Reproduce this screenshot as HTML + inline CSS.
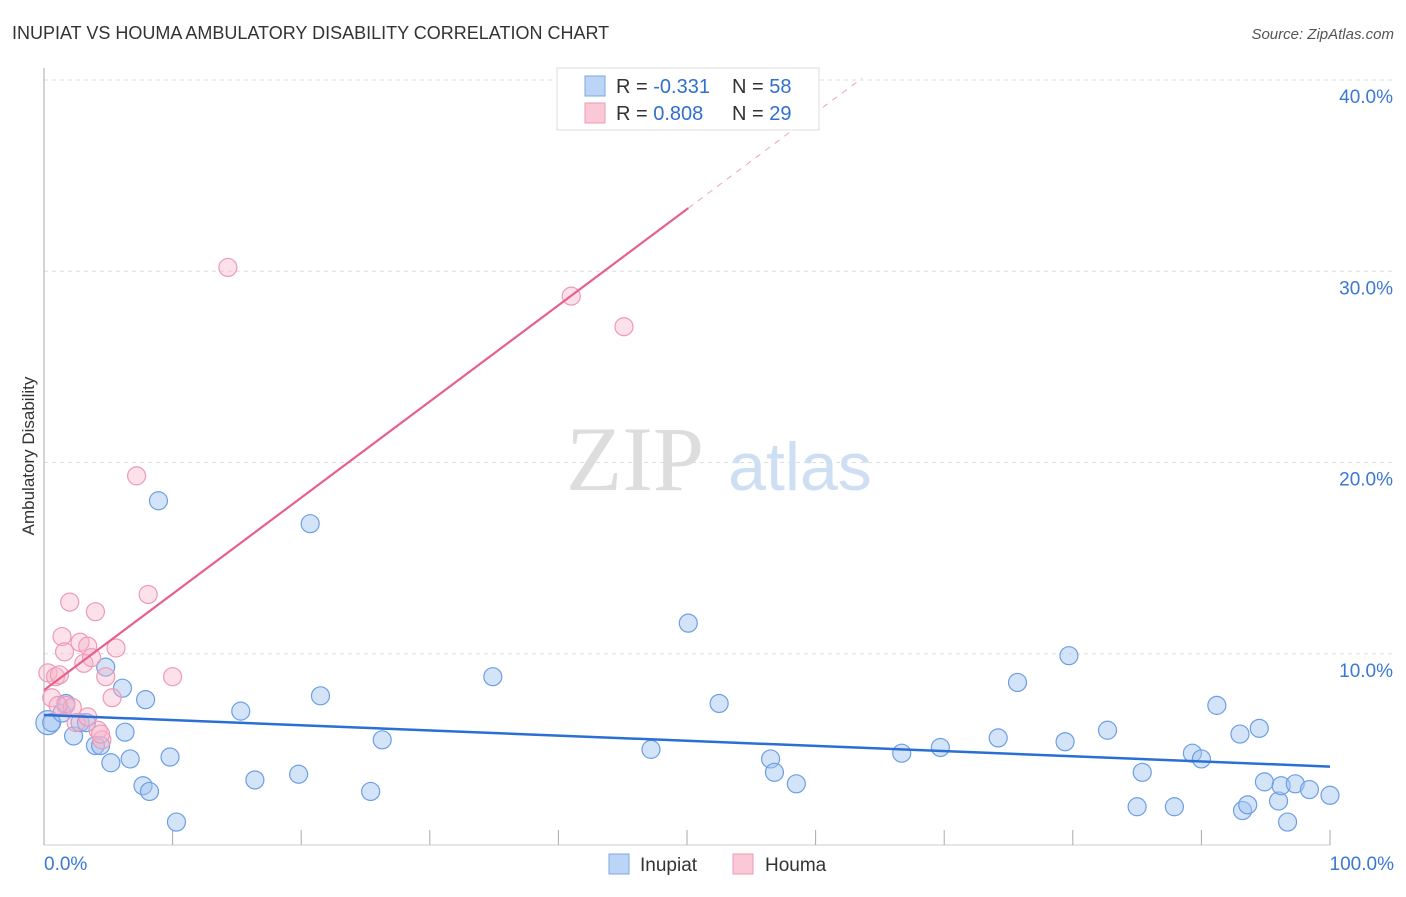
<!DOCTYPE html>
<html><head><meta charset="utf-8"><style>
body{margin:0;background:#fff;font-family:"Liberation Sans",sans-serif;}
</style></head><body>
<svg width="1406" height="892" xmlns="http://www.w3.org/2000/svg" font-family="Liberation Sans, sans-serif">
<text x="12" y="39" font-size="18" fill="#333">INUPIAT VS HOUMA AMBULATORY DISABILITY CORRELATION CHART</text>
<text x="1394" y="39" font-size="15" fill="#555" font-style="italic" text-anchor="end">Source: ZipAtlas.com</text>
<text x="34" y="456" font-size="17" fill="#333" transform="rotate(-90 34 456)" text-anchor="middle">Ambulatory Disability</text>
<g id="grid"></g>
<g id="watermark"><text x="635" y="490" font-size="92" fill="#ddd" font-family="Liberation Serif, serif" text-anchor="middle">ZIP</text><text x="800" y="490" font-size="68" fill="#cfdff3" text-anchor="middle">atlas</text></g>
<g id="points"></g>
<g id="lines"></g>
<g>
<rect x="557" y="68" width="262" height="62" fill="#fff" stroke="#ddd"/>
<rect x="585" y="76" width="20" height="20" fill="#bcd4f5" stroke="#7aa7e6"/>
<rect x="585" y="103" width="20" height="20" fill="#fbc8d8" stroke="#ee9ab5"/>
<text x="616" y="93" font-size="20" fill="#333">R = <tspan fill="#2f6fd0">-0.331</tspan></text>
<text x="732" y="93" font-size="20" fill="#333">N = <tspan fill="#2f6fd0">58</tspan></text>
<text x="616" y="120" font-size="20" fill="#333">R = <tspan fill="#2f6fd0"> 0.808</tspan></text>
<text x="732" y="120" font-size="20" fill="#333">N = <tspan fill="#2f6fd0">29</tspan></text>
</g>
<g>
<rect x="609" y="854" width="20" height="20" fill="#bcd4f5" stroke="#7aa7e6"/>
<text x="640" y="871" font-size="19" fill="#333">Inupiat</text>
<rect x="733" y="854" width="20" height="20" fill="#fbc8d8" stroke="#ee9ab5"/>
<text x="765" y="871" font-size="19" fill="#333">Houma</text>
</g>
</svg>
<script>
const yTicks=[10,20,30,40];
const xTickLabels=["0.0%","100.0%"];
const inupiatX=[0.3,0.6,1.4,1.7,2.3,2.8,3.3,4.0,4.4,4.8,5.2,6.1,6.3,6.7,7.9,7.7,8.2,8.9,9.8,10.3,15.3,16.4,19.8,20.7,21.5,25.4,26.3,34.9,47.2,50.1,52.5,56.5,56.8,58.5,66.7,69.7,74.2,75.7,79.4,79.7,82.7,85.0,85.4,87.9,89.3,90.0,91.2,93.0,93.2,93.6,94.5,94.9,96.0,96.2,96.7,97.3,98.4,100];
const inupiatY=[6.4,6.4,6.9,7.4,5.7,6.4,6.4,5.2,5.2,9.3,4.3,8.2,5.9,4.5,7.6,3.1,2.8,18.0,4.6,1.2,7.0,3.4,3.7,16.8,7.8,2.8,5.5,8.8,5.0,11.6,7.4,4.5,3.8,3.2,4.8,5.1,5.6,8.5,5.4,9.9,6.0,2.0,3.8,2.0,4.8,4.5,7.3,5.8,1.8,2.1,6.1,3.3,2.3,3.1,1.2,3.2,2.9,2.6];
const houmaX=[0.3,0.6,0.9,1.2,1.4,1.6,2.0,1.7,2.2,2.8,3.1,3.4,3.7,4.0,4.2,4.5,4.8,5.3,5.6,7.2,8.1,10.0,14.3,41.0,45.1,2.5,3.4,1.1,4.4];
const houmaY=[9.0,7.7,8.8,8.9,10.9,10.1,12.7,7.3,7.2,10.6,9.5,10.4,9.8,12.2,6.0,5.5,8.8,7.7,10.3,19.3,13.1,8.8,30.2,28.7,27.1,6.4,6.7,7.3,5.8];
const inupiatTrend=[6.8,4.1];
const houmaTrend=[8.1,0.503];
const NS="http://www.w3.org/2000/svg";
const X=v=>44+v*12.86, Y=v=>845-v*19.125;
function mk(tag,attrs,parent){const e=document.createElementNS(NS,tag);for(const k in attrs)e.setAttribute(k,attrs[k]);parent.appendChild(e);return e;}
const grid=document.getElementById('grid');
yTicks.forEach(t=>{
 const l=mk('line',{x1:44,x2:1394,y1:Y(t),y2:Y(t),stroke:'#ddd','stroke-dasharray':'4,4'},grid);
 
 
 const tx=mk('text',{x:1393,y:Y(t)+23,'font-size':19,fill:'#3a78d4','text-anchor':'end'},grid);
 tx.textContent=t.toFixed(1)+'%';
 
 
});
const ax=mk('line',{x1:44,x2:44,y1:68,y2:845,stroke:'#aaa'},grid);


const bx=mk('line',{x1:44,x2:1330,y1:845,y2:845,stroke:'#ccc'},grid);


for(let i=1;i<=10;i++){const t=mk('line',{x1:X(i*10),x2:X(i*10),y1:830,y2:845,stroke:'#aaa'},grid);
 
 }
[[0,'start',44],[100,'end',1394]].forEach((d,i)=>{const t=mk('text',{x:d[2],y:870,'font-size':19,fill:'#3a78d4','text-anchor':d[1]},grid);t.textContent=xTickLabels[i];
 
 });
const pts=document.getElementById('points');
inupiatX.forEach((x,i)=>{const c=mk('circle',{cx:X(x),cy:Y(inupiatY[i]),r:i==0?12:9,fill:'rgba(160,195,240,0.45)',stroke:'#6d9ee3','stroke-width':1.2},pts);
 
 });
houmaX.forEach((x,i)=>{const c=mk('circle',{cx:X(x),cy:Y(houmaY[i]),r:9,fill:'rgba(248,180,202,0.4)',stroke:'#ee9ab5','stroke-width':1.2},pts);
 
 });
const ln=document.getElementById('lines');
const b=mk('line',{x1:X(0),y1:Y(inupiatTrend[0]),x2:X(100),y2:Y(inupiatTrend[1]),stroke:'#2a6fd4','stroke-width':2.5},ln);


const hy=x=>houmaTrend[0]+houmaTrend[1]*x;
const p=mk('line',{x1:X(0),y1:Y(hy(0)),x2:X(50.1),y2:Y(hy(50.1)),stroke:'#e8608a','stroke-width':2.2},ln);


const pd=mk('line',{x1:X(50.1),y1:Y(hy(50.1)),x2:X(63.6),y2:Y(hy(63.6)),stroke:'#f0a0b8','stroke-width':1,'stroke-dasharray':'6,6'},ln);


</script>
</body></html>
